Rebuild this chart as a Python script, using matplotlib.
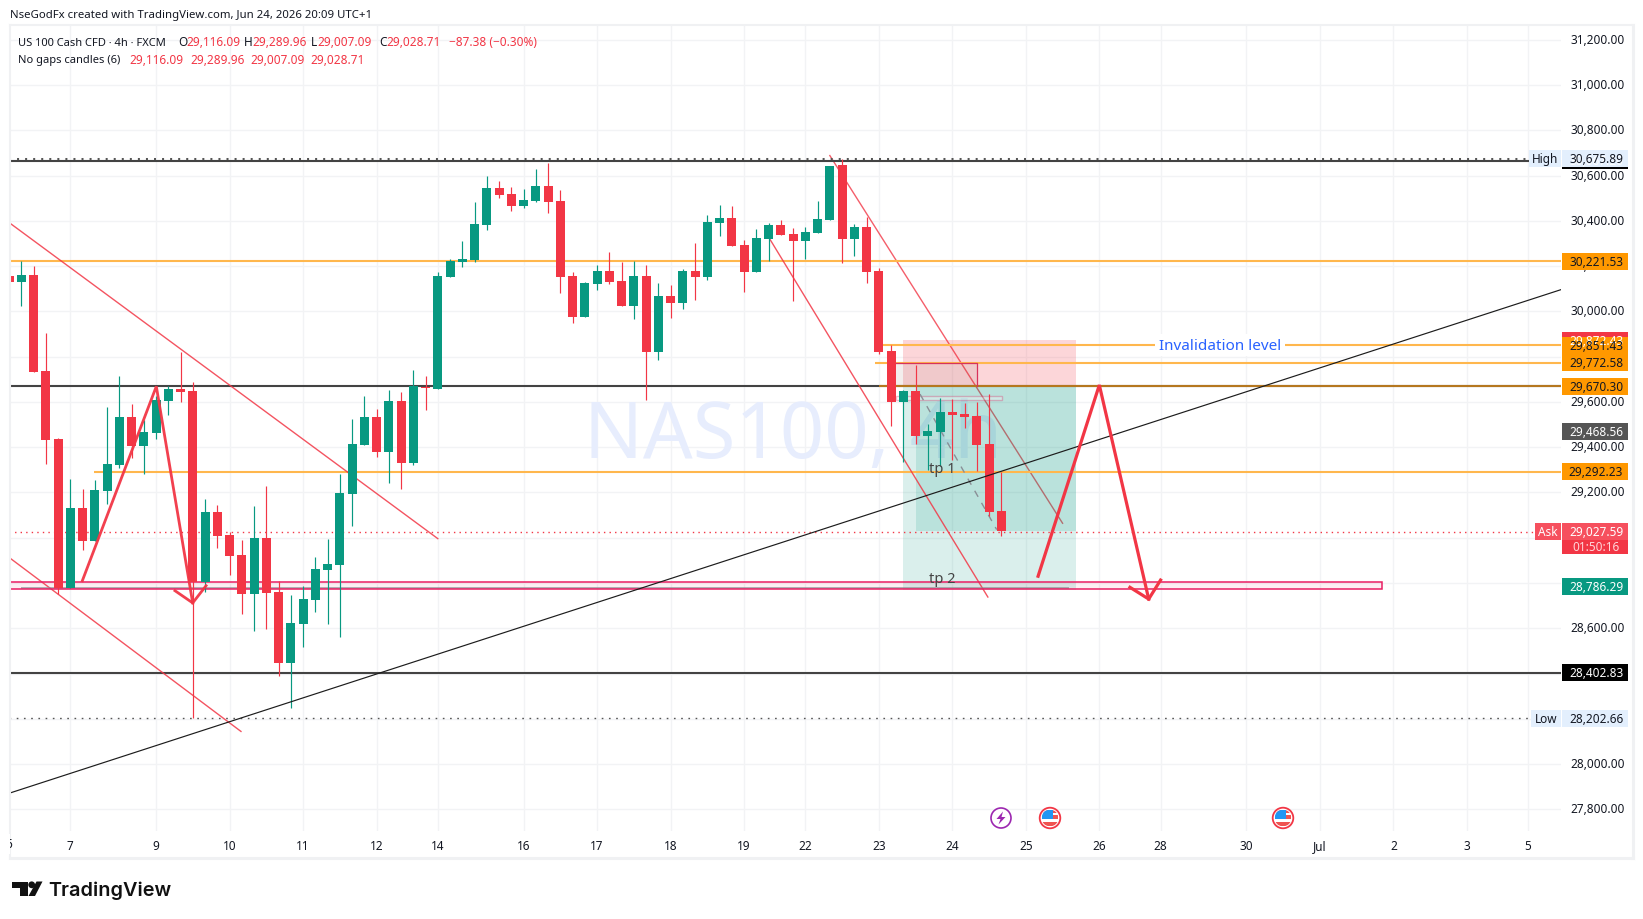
import matplotlib
matplotlib.use("Agg")
import matplotlib.pyplot as plt
from matplotlib.patches import Rectangle, Circle, Polygon
from matplotlib.transforms import IdentityTransform, ScaledTranslation
import numpy as np

# candles, 4h bars, index -1 is the one cut by the left edge
opens = [30156, 30131, 30161, 29736, 29436, 28777, 29131, 28985, 29206, 29321, 29533, 29405, 29463, 29603, 29657,
         29648, 28804, 29113, 29012, 28923, 28751, 28998, 28760, 28446, 28618, 28724, 28857, 28879, 29193, 29410,
         29533, 29379, 29604, 29330, 29667, 29657, 30152, 30218, 30227, 30382, 30545, 30519, 30466, 30488, 30554,
         30488, 30156, 29975, 30121, 30178, 30134, 30024, 30156, 29820, 30068, 30037, 30178, 30152, 30391, 30413,
         30293, 30174, 30320, 30382, 30342, 30311, 30346, 30404, 30647, 30320, 30373, 30178, 29825, 29600, 29648,
         29449, 29467, 29556, 29547, 29538, 29414, 29116]
highs = [30156, 30224, 30200, 29904, 29440, 29259, 29215, 29255, 29578, 29714, 29590, 29519, 29627, 29670, 29820,
         29687, 29171, 29144, 29025, 28990, 29140, 29228, 28808, 28746, 28786, 28914, 28994, 29281, 29525, 29626,
         29569, 29652, 29643, 29741, 29714, 30174, 30231, 30311, 30483, 30598, 30576, 30550, 30541, 30629, 30656,
         30536, 30174, 30130, 30205, 30262, 30218, 30222, 30205, 30125, 30116, 30187, 30302, 30426, 30470, 30466,
         30315, 30364, 30391, 30404, 30368, 30373, 30488, 30643, 30676, 30386, 30417, 30192, 29852, 29653, 29763,
         29502, 29617, 29613, 29595, 29600, 29635, 29290]
lows = [30131, 30025, 29733, 29326, 28751, 28777, 28945, 28985, 29149, 29308, 29352, 29281, 29436, 29542, 29599,
        28203, 28760, 28954, 28835, 28662, 28587, 28596, 28388, 28247, 28516, 28671, 28618, 28561, 29051, 29410,
        29357, 29242, 29215, 29321, 29564, 29657, 30152, 30196, 30218, 30360, 30501, 30444, 30457, 30483, 30435,
        30081, 29948, 29975, 30094, 30121, 30024, 29966, 29608, 29785, 29970, 30010, 30050, 30138, 30333, 30289,
        30085, 30174, 30222, 30337, 30046, 30231, 30346, 30404, 30214, 30245, 30125, 29812, 29494, 29334, 29414,
        29299, 29317, 29343, 29485, 29295, 29096, 29007]
closes = [30131, 30161, 29733, 29433, 28777, 29131, 28985, 29211, 29326, 29533, 29405, 29467, 29608, 29657, 29643,
          28804, 29113, 29007, 28919, 28751, 28998, 28755, 28446, 28622, 28729, 28861, 28883, 29197, 29414, 29533,
          29379, 29604, 29330, 29670, 29660, 30156, 30222, 30231, 30386, 30545, 30514, 30466, 30492, 30554, 30483,
          30152, 29975, 30125, 30178, 30130, 30024, 30156, 29820, 30068, 30037, 30178, 30152, 30395, 30413, 30289,
          30174, 30324, 30382, 30337, 30311, 30351, 30408, 30643, 30320, 30373, 30174, 29820, 29600, 29648, 29449,
          29472, 29556, 29542, 29533, 29410, 29113, 29029]

price_ticks = [31200, 31000, 30800, 30600, 30400, 30200, 30000, 29800, 29600, 29400, 29200, 29000, 28800, 28600,
               28400, 28200, 28000, 27800]
date_ticks = [4, 11, 17, 23, 29, 34, 41, 47, 53, 59, 64, 70, 76, 82, 88, 93, 100, 106, 112, 118, 123]
date_labels = ["7", "9", "10", "11", "12", "14", "16", "17", "18", "19", "22", "23", "24", "25", "26", "28", "30",
               "Jul", "2", "3", "5"]

# horizontal levels
black_levels = [30667, 29670, 28403]
orange_levels = [30221.53, 29851.43, 29772.58, 29292.23]
orange_starts = [-1, 70.2, 69.7, 5.9]
high_price = 30675.89
low_price = 28202.66
ask_price = 29027.59

# drawings as (bar index, price)
falling_1_x, falling_1_y = [-0.925, 34.0], [30390, 28996]
falling_2_x, falling_2_y = [-0.925, 17.93], [28910, 28144]
channel_a_x, channel_a_y = [66.0, 85.0], [30689, 29064]
channel_b_x, channel_b_y = [61.1, 78.9], [30320, 28738]
trend_x, trend_y = [-0.925, 125.66], [27872, 30096]
arrow_1_x, arrow_1_y = [4.98, 11.02, 13.99], [28810, 29669, 28712]
arrow_1_head_x, arrow_1_head_y = [12.54, 13.99, 15.08], [28766, 28712, 28788]
arrow_2_x, arrow_2_y = [83.0, 88.0, 92.03], [28830, 29675, 28729]
arrow_2_head_x, arrow_2_head_y = [90.5, 92.03, 93.0], [28781, 28729, 28813]
dashed_x, dashed_y = [73.36, 79.62], [29635, 29036]

# tags on the price axis: price, text, fill, text colour
tag_prices = [30667, high_price, 30221.53, 29872.43, 29851.43, 29772.58, 29670.30, 29468.56, 29292.23, ask_price,
              28786.29, 28402.83, low_price]
tag_texts = ["30,667.20", "30,675.89", "30,221.53", "29,872.43", "29,851.43", "29,772.58", "29,670.30", "29,468.56",
             "29,292.23", "29,027.59", "28,786.29", "28,402.83", "28,202.66"]
tag_fills = ["#000000", "#e3effd", "#ff9800", "#f23645", "#ff9800", "#ff9800", "#ff9800", "#555555", "#ff9800",
             "#f6505e", "#089981", "#000000", "#e3effd"]
tag_inks = ["#ffffff", "#131722", "#131722", "#ffffff", "#131722", "#131722", "#131722", "#ffffff", "#131722",
            "#ffffff", "#ffffff", "#ffffff", "#131722"]

up = "#089981"
down = "#f23645"
ink = "#131722"
font = ["Noto Sans", "DejaVu Sans"]
plt.rcParams["font.family"] = font

W, H = 1643, 920
fig = plt.figure(figsize=(W / 100, H / 100), dpi=100, facecolor="white")
ax = fig.add_axes([10 / W, (H - 832) / H, 1551 / W, 806 / H])
ax.set_xlim((10 - 21.33) / 12.25, (1561 - 21.33) / 12.25)
ax.set_ylim(27704, 31266)
for s in ax.spines.values():
    s.set_visible(False)


def fx(px):
    return px / W


def fy(py):
    return 1 - py / H


def ax_x(px):
    return (px - 10) / 1551


ax.set_axisbelow(True)
ax.set_yticks(price_ticks)
ax.set_yticklabels([f"{p:,.2f}" for p in price_ticks])
ax.set_xticks(date_ticks)
ax.set_xticklabels(date_labels)
ax.yaxis.tick_right()
ax.tick_params(axis="y", length=0, pad=6.5, labelsize=8.5, labelcolor=ink)
ax.tick_params(axis="x", length=0, pad=5.5, labelsize=8.5, labelcolor=ink)
ax.grid(True, color="#f2f3f5", lw=1.0)

# price labels sit a little above their grid line
lift = ScaledTranslation(0, 1.5 / 72, fig.dpi_scale_trans)
for t in ax.yaxis.get_major_ticks():
    t.label2.set_transform(t.label2.get_transform() + lift)

# watermark under everything
ax.text(ax_x(584.5), 29447, "NAS100, 4h", transform=ax.get_yaxis_transform(), fontsize=56, color="#e7edfd",
        va="center", ha="left", zorder=0.6)

# line A goes under the position fill
ax.plot(channel_a_x, channel_a_y, color=down, lw=1.0, alpha=0.8, zorder=1)

# long position block
ax.add_patch(Rectangle((71.97, 29671), 14.13, 29874 - 29671, fc=down, alpha=0.2, ec="none", zorder=1.2))
ax.add_patch(Rectangle((71.97, 28769), 14.13, 29671 - 28769, fc=up, alpha=0.15, ec="none", zorder=1.2))
ax.add_patch(Rectangle((73.04, 29028), 13.06, 29671 - 29028, fc=up, alpha=0.15, ec="none", zorder=1.2))

# levels
ax.hlines(black_levels, -1, 126, color="#434343", lw=1.5, zorder=1.5)
ax.hlines(orange_levels, orange_starts, 126, color="#ffb74d", lw=1.5, zorder=1.6)
ax.hlines(29670, 70, 126, color="#b5771f", lw=1.5, zorder=1.7)
ax.hlines(high_price, -1, 123, color="#555555", lw=1.45, linestyles=(0, (1, 3)), zorder=1.5)
ax.hlines(low_price, -1, 123, color="#555555", lw=1.0, linestyles=(0, (1.2, 4)), zorder=1.5)
ax.hlines(ask_price, -1, 123.5, color=down, lw=1.0, linestyles=(0, (1, 3)), zorder=1.5)

# red and black lines
ax.plot(falling_1_x, falling_1_y, color=down, lw=1.0, alpha=0.85, zorder=2)
ax.plot(falling_2_x, falling_2_y, color=down, lw=1.0, alpha=0.85, zorder=2)
ax.plot(channel_b_x, channel_b_y, color=down, lw=1.0, alpha=0.85, zorder=2)

# box at the target and the tools on top of the last candles
ax.add_patch(Rectangle((-0.925, 28772), 111.975, 28803 - 28772, fc="#e91e63", alpha=0.07, ec="none", zorder=2))
ax.add_patch(Rectangle((-0.925, 28772), 111.975, 28803 - 28772, fc="none", ec="#e91e63", lw=1.1, zorder=2.1))
ax.hlines(28777, 0, 85.5, color="#8a8f96", lw=1.2, alpha=0.8, zorder=2.05)
ax.add_patch(Rectangle((71.38, 29671), 6.66, 29774 - 29671, fc="#8a5a50", alpha=0.1, ec="none", zorder=1.3))
ax.plot([71.38, 78.04, 78.04], [29774, 29774, 29671], color="#d8315b", lw=0.9, zorder=1.8)
ax.add_patch(Rectangle((71.38, 29607), 8.65, 18, fc="#ffffff", alpha=0.3, ec="#d81e5b", lw=1.0, zorder=1.8))
ax.plot(dashed_x, dashed_y, color="#8a8f96", lw=1.0, linestyle=(0, (5, 5)), zorder=2)

# candles
xs = np.arange(-1, 81)
o = np.array(opens, dtype=float)
h = np.array(highs, dtype=float)
l = np.array(lows, dtype=float)
c = np.array(closes, dtype=float)
colors = [up if ce >= op else down for op, ce in zip(o, c)]
ax.vlines(xs, l, h, colors=colors, lw=0.85, zorder=3)
ax.bar(xs, np.abs(c - o), bottom=np.minimum(o, c), width=0.735, color=colors, lw=0, zorder=3.1)

ax.plot(trend_x, trend_y, color="#1c1c1c", lw=0.85, zorder=3.5)
ax.plot(arrow_1_x, arrow_1_y, color=down, lw=2.0, alpha=0.95, zorder=3.6, solid_joinstyle="miter")
ax.plot(arrow_1_head_x, arrow_1_head_y, color=down, lw=2.0, alpha=0.95, zorder=3.6, solid_joinstyle="miter")
ax.plot(arrow_2_x, arrow_2_y, color=down, lw=2.3, zorder=3.6, solid_joinstyle="miter")
ax.plot(arrow_2_head_x, arrow_2_head_y, color=down, lw=2.3, zorder=3.6, solid_joinstyle="miter")

ax.text(75.2, 29306, "tp 1", fontsize=10.5, color="#444444", ha="center", va="center", zorder=4)
ax.text(75.2, 28820, "tp 2", fontsize=10.5, color="#444444", ha="center", va="center", zorder=4)
ax.text(97.85, 29851, "Invalidation level", fontsize=11, color="#2962ff", ha="center", va="center", zorder=4,
        bbox=dict(fc="white", ec="none", pad=2.5))

# tags on the axis
yt = ax.get_yaxis_transform()
for p, t, f, k in zip(tag_prices, tag_texts, tag_fills, tag_inks):
    ax.add_patch(Rectangle((ax_x(1562), p - 37.5), 66 / 1551, 75, fc=f, ec="none", transform=yt, clip_on=False, zorder=6))
    ax.text(ax_x(1596), p, t, color=k, fontsize=8.5, ha="center", va="center", transform=yt, clip_on=False, zorder=7)
ax.add_patch(Rectangle((ax_x(1562), ask_price - 100), 66 / 1551, 63, fc=down, ec="none", transform=yt, clip_on=False, zorder=6))
ax.text(ax_x(1596), ask_price - 68, "01:50:16", color="#ffd5d9", fontsize=8.5, ha="center", va="center", transform=yt,
        clip_on=False, zorder=7)
side_tags = [("High", high_price, 1529, "#e3effd", ink), ("Ask", ask_price, 1535, "#f6505e", "white"),
             ("Low", low_price, 1531, "#e3effd", ink)]
for t, p, x0, f, k in side_tags:
    ax.add_patch(Rectangle((ax_x(x0), p - 37.5), (1561 - x0) / 1551, 75, fc=f, ec="none", transform=yt, clip_on=False, zorder=6))
    ax.text(ax_x((x0 + 1561) / 2), p, t, color=k, fontsize=8.5, ha="center", va="center", transform=yt, clip_on=False, zorder=7)

# event icons on the time scale
disp = IdentityTransform()
ring = Circle((1001, H - 819), 10, fc="white", ec="#9c27b0", lw=1.2, transform=disp)
fig.add_artist(ring)
bolt = np.array([[1003, 812.5], [996.5, 820], [1000.5, 820], [998.5, 825.5], [1005.5, 818], [1001.5, 818]])
bolt[:, 1] = H - bolt[:, 1]
fig.add_artist(Polygon(bolt, closed=True, fc="#9c27b0", ec="none", transform=disp))
for cx in [1050, 1283]:
    rim = Circle((cx, H - 819), 10.3, fc="white", ec="#f23645", lw=1.3, transform=disp)
    fig.add_artist(rim)
    inner = Circle((cx, H - 819), 8.4, transform=disp)
    for x0, y0, w, hh, col in [(-8.4, -7.8, 16.8, 3, "#ef5350"), (-8.4, 4, 16.8, 4, "#ef5350"), (2, -3, 6.4, 4, "#ef5350"),
                               (-8.4, -8.4, 11, 9.6, "#2196f3")]:
        r = Rectangle((cx + x0, H - 819 - y0 - hh), w, hh, fc=col, ec="none", transform=disp)
        fig.add_artist(r)
        r.set_clip_path(inner)

# pane frame
frame = "#f0f1f3"
fig.add_artist(plt.Line2D([fx(10), fx(10)], [fy(26), fy(859)], color=frame, lw=1.5))
fig.add_artist(plt.Line2D([fx(10), fx(1633)], [fy(859), fy(859)], color=frame, lw=2.2))
fig.add_artist(plt.Line2D([fx(1633), fx(1633)], [fy(26), fy(859)], color=frame, lw=2.2))
fig.add_artist(plt.Line2D([fx(10), fx(1633)], [fy(26), fy(26)], color=frame, lw=1.5))

# cut "6" at the left edge
fig.text(fx(9), fy(845), "6", fontsize=8.5, color=ink, ha="center", va="center", zorder=8)
fig.add_artist(Rectangle((0, fy(855)), fx(10), fy(835) - fy(855), fc="white", ec="none", zorder=9))

# header and legend
fig.text(fx(10), fy(15.5), "NseGodFx created with TradingView.com, Jun 24, 2026 20:09 UTC+1", fontsize=8.2, color=ink, va="center")
row1 = [(17.9, "US 100 Cash CFD · 4h · FXCM", ink, 8.0), (178, "O", ink, 8.5), (186, "29,116.09", down, 8.5),
        (244, "H", ink, 8.5), (252, "29,289.96", down, 8.5), (311, "L", ink, 8.5), (317, "29,007.09", down, 8.5),
        (379, "C", ink, 8.5), (386, "29,028.71", down, 8.5), (449, "−87.38 (−0.30%)", down, 8.5)]
for x, t, col, size in row1:
    fig.text(fx(x), fy(43), t, fontsize=size, color=col, va="center")
row2 = [(17.9, "No gaps candles (6)", ink, 8.0), (129, "29,116.09", down, 8.5), (190, "29,289.96", down, 8.5),
        (250, "29,007.09", down, 8.5), (310, "29,028.71", down, 8.5)]
for x, t, col, size in row2:
    fig.text(fx(x), fy(60), t, fontsize=size, color=col, va="center")

# logo
logo_dark = "#111111"
t_bar = np.array([[12, 882.5], [27.5, 882.5], [27.5, 897], [19.5, 897], [19.5, 889], [12, 889]])
t_bar[:, 1] = H - t_bar[:, 1]
fig.add_artist(Polygon(t_bar, closed=True, fc=logo_dark, ec="none", transform=disp))
fig.add_artist(Circle((31.7, H - 885.8), 3.4, fc=logo_dark, ec="none", transform=disp))
slash = np.array([[36.5, 882.5], [42.5, 882.5], [35, 897], [28.5, 897]])
slash[:, 1] = H - slash[:, 1]
fig.add_artist(Polygon(slash, closed=True, fc=logo_dark, ec="none", transform=disp))
fig.text(fx(48.5), fy(891), "TradingView", fontsize=14.3, family=["Inter", "DejaVu Sans"], weight="semibold", color=logo_dark, va="center")

fig.savefig("out.png", dpi=100, facecolor="white")
